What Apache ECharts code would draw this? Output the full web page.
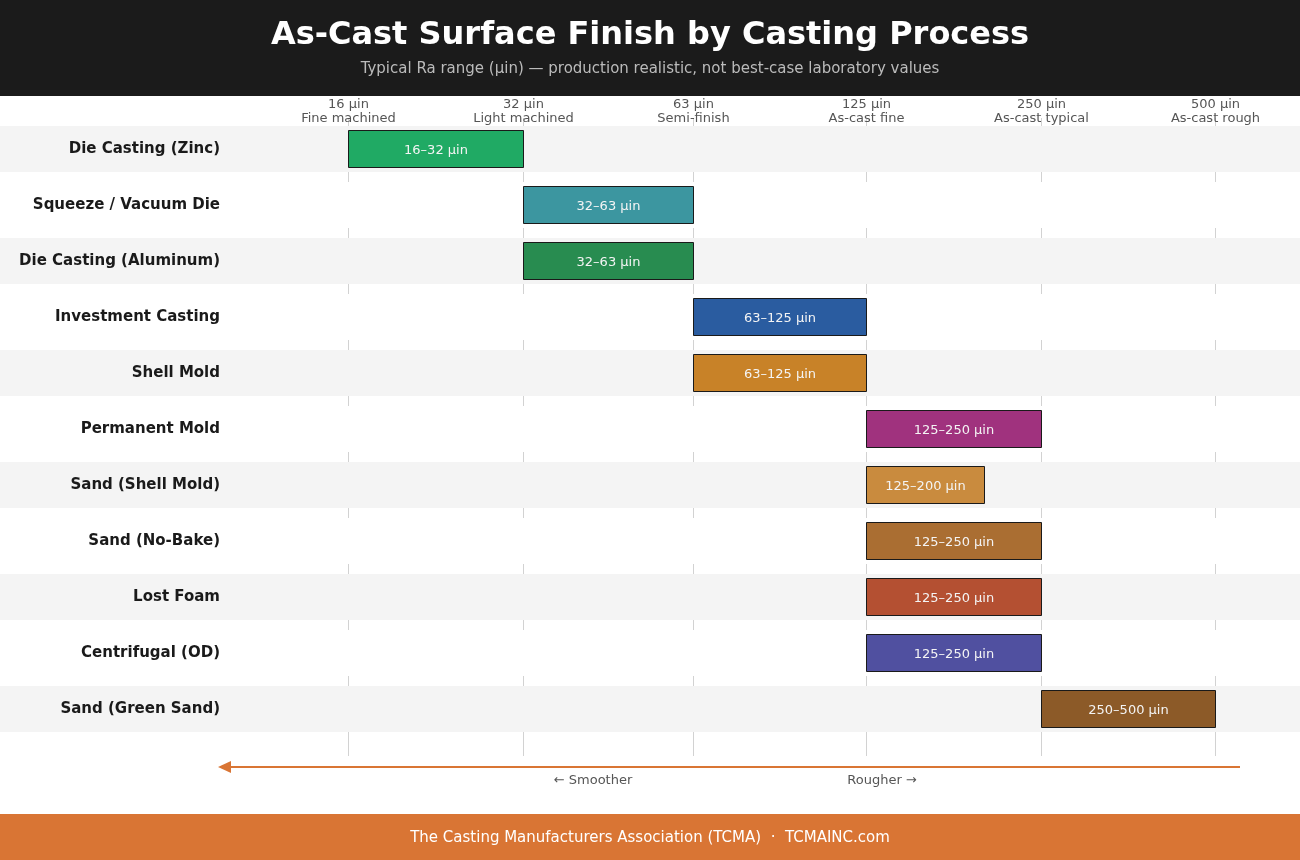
<!DOCTYPE html>
<html>
<head>
<meta charset="utf-8">
<title>As-Cast Surface Finish by Casting Process</title>
<script src="https://cdn.jsdelivr.net/npm/echarts@6/dist/echarts.min.js"></script>
<style>
  html, body { margin: 0; padding: 0; background: #fff; }
  #main { width: 1300px; height: 860px; }
</style>
</head>
<body>
<div id="main"></div>
<script>
// processes, top to bottom
var processes = ['Die Casting (Zinc)', 'Squeeze / Vacuum Die', 'Die Casting (Aluminum)', 'Investment Casting',
	'Shell Mold', 'Permanent Mold', 'Sand (Shell Mold)', 'Sand (No-Bake)', 'Lost Foam', 'Centrifugal (OD)',
	'Sand (Green Sand)'];
var raMin = [16, 32, 32, 63, 63, 125, 125, 125, 125, 125, 250]; // µin
var raMax = [32, 63, 63, 125, 125, 250, 200, 250, 250, 250, 500]; // µin
var barColors = ['#20aa64', '#3c96a0', '#288c50', '#2a5ca0', '#c88228', '#a0327e', '#c98b3e', '#aa6e32',
	'#b45032', '#5050a0', '#8c5a28'];
// reference marks on the Ra axis
var tickValues = [16, 32, 63, 125, 250, 500];
var tickNames = ['Fine machined', 'Light machined', 'Semi-finish', 'As-cast fine', 'As-cast typical', 'As-cast rough'];

var orange = '#d97534';
var font = 'DejaVu Sans';

var barData = [];
for (var i = 0; i < processes.length; i++) {
	barData.push([raMin[i], raMax[i], i]);
}
var bandData = [];
for (var i = 0; i < processes.length; i++) {
	bandData.push([raMin[i], i]);
}
var tickData = [];
for (var i = 0; i < tickValues.length; i++) {
	tickData.push([tickValues[i], 0, i]);
}

var chart = echarts.init(document.getElementById('main'));

var option = {
	backgroundColor: '#fff',
	animation: false,
	textStyle: { fontFamily: font },
	title: {
		text: 'As-Cast Surface Finish by Casting Process',
		subtext: 'Typical Ra range (µin) — production realistic, not best-case laboratory values',
		left: 'center',
		top: 20,
		padding: 0,
		itemGap: 10,
		textStyle: { color: '#fff', fontSize: 32, fontWeight: 'bold', fontFamily: font },
		subtextStyle: { color: '#bbbbbb', fontSize: 15, fontFamily: font }
	},
	grid: { left: 230, right: 60, top: 121, bottom: 123 },
	xAxis: {
		type: 'log',
		logBase: 2,
		min: 10,
		max: 552,
		axisLine: { show: false },
		axisTick: { show: false },
		axisLabel: { show: false },
		splitLine: { show: false }
	},
	yAxis: {
		type: 'category',
		data: processes,
		inverse: true,
		z: 5,
		axisLine: { show: false },
		axisTick: { show: false },
		splitLine: { show: false },
		axisLabel: {
			margin: 10,
			padding: [2, 0, 0, 0],
			color: '#1a1a1a',
			fontSize: 15,
			fontWeight: 'bold',
			fontFamily: font
		}
	},
	graphic: [
		{ type: 'rect', z: 0, shape: { x: 0, y: 0, width: 1300, height: 96 }, style: { fill: '#1b1b1b' } },
		{ type: 'rect', z: 0, shape: { x: 0, y: 814, width: 1300, height: 46 }, style: { fill: orange } },
		{
			type: 'text', z: 10, x: 650, y: 838,
			style: {
				text: 'The Casting Manufacturers Association (TCMA)  ·  TCMAINC.com',
				fill: '#fff', fontSize: 15, fontFamily: font, align: 'center', verticalAlign: 'middle'
			}
		},
		// smoother / rougher arrow
		{ type: 'line', z: 10, shape: { x1: 228, y1: 767, x2: 1240, y2: 767 }, style: { stroke: orange, lineWidth: 2 } },
		{ type: 'polygon', z: 10, shape: { points: [[218, 767], [231, 761], [231, 773]] }, style: { fill: orange } },
		{
			type: 'text', z: 10, x: 593, y: 781,
			style: { text: '← Smoother', fill: '#555', fontSize: 13, fontFamily: font, align: 'center', verticalAlign: 'middle' }
		},
		{
			type: 'text', z: 10, x: 882, y: 781,
			style: { text: 'Rougher →', fill: '#555', fontSize: 13, fontFamily: font, align: 'center', verticalAlign: 'middle' }
		}
	],
	series: [
		{
			// reference lines + two-line labels on top
			type: 'custom',
			z: 1,
			clip: false,
			silent: true,
			data: tickData,
			renderItem: function(params, api) {
				var idx = api.value(2);
				var x = Math.round(api.coord([api.value(0), 0])[0]) + 0.5;
				var top = params.coordSys.y;
				var bottom = params.coordSys.y + params.coordSys.height;
				return {
					type: 'group',
					children: [
						{
							type: 'line',
							shape: { x1: x, y1: top - 3, x2: x, y2: bottom + 19 },
							style: { stroke: '#d2d2d2', lineWidth: 1 }
						},
						{
							type: 'text',
							x: x, y: top - 9,
							z2: 10,
							style: {
								text: tickValues[idx] + ' µin\n' + tickNames[idx],
								fill: '#555', fontSize: 13, lineHeight: 14, fontFamily: font,
								align: 'center', verticalAlign: 'middle'
							}
						}
					]
				};
			}
		},
		{
			// alternating row bands across the full width
			type: 'custom',
			z: 2,
			clip: false,
			silent: true,
			data: bandData,
			renderItem: function(params, api) {
				var row = api.value(1);
				var y = api.coord([api.value(0), row])[1];
				return {
					type: 'rect',
					shape: { x: 0, y: Math.round(y) - 23, width: api.getWidth(), height: 46 },
					style: { fill: row % 2 === 0 ? '#f4f4f4' : '#ffffff' }
				};
			}
		},
		{
			// Ra range bars
			type: 'custom',
			z: 3,
			data: barData,
			renderItem: function(params, api) {
				var row = api.value(2);
				var p0 = api.coord([api.value(0), row]);
				var p1 = api.coord([api.value(1), row]);
				var x0 = Math.round(p0[0]) + 0.5;
				var x1 = Math.round(p1[0]) + 0.5;
				var y = Math.round(p0[1]);
				return {
					type: 'group',
					children: [
						{
							type: 'rect',
							shape: { x: x0, y: y - 18.5, width: x1 - x0, height: 37 },
							style: { fill: barColors[row], stroke: '#1a1a1a', lineWidth: 1 }
						},
						{
							type: 'text',
							x: (x0 + x1) / 2, y: y + 2,
							style: {
								text: raMin[row] + '–' + raMax[row] + ' µin',
								fill: '#f4f4f4', fontSize: 13, fontFamily: font,
								align: 'center', verticalAlign: 'middle'
							}
						}
					]
				};
			}
		}
	]
};

chart.setOption(option);
</script>
</body>
</html>
